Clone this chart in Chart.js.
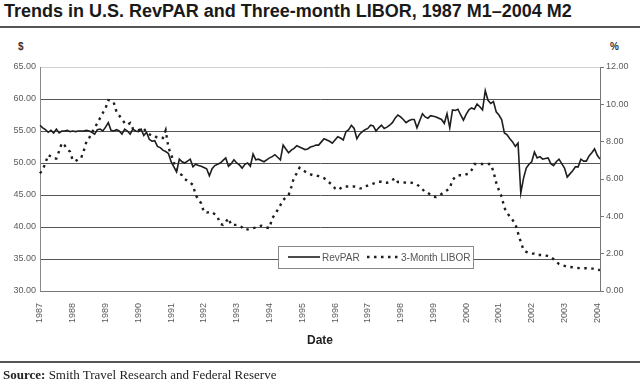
<!DOCTYPE html>
<html>
<head>
<meta charset="utf-8">
<script src="https://cdn.jsdelivr.net/npm/chart.js@4.4.1/dist/chart.umd.min.js"></script>
<style>
  html, body { margin: 0; padding: 0; background: #fff; }
  body { width: 640px; height: 384px; position: relative; overflow: hidden; font-family: "Liberation Sans", Arial, sans-serif; }
  .title { position: absolute; left: 4px; top: 1px; font-weight: bold; font-size: 18px; color: #1a1a1a; white-space: nowrap; }
  .rule { position: absolute; left: 0; width: 640px; height: 2px; background: #555; }
  .unit { position: absolute; top: 41px; font-size: 10px; font-weight: bold; color: #333; }
  .xtitle { position: absolute; top: 333px; left: 0; width: 640px; text-align: center; font-weight: bold; font-size: 12px; color: #222; }
  .source { position: absolute; left: 3px; top: 367px; font-family: "Liberation Serif", serif; font-size: 13px; color: #222; white-space: nowrap; }
  #wrap { position: absolute; left: 0; top: 40px; width: 640px; height: 300px; }
</style>
</head>
<body>
<div class="title">Trends in U.S. RevPAR and Three-month LIBOR, 1987 M1–2004 M2</div>
<div class="rule" style="top:26px"></div>
<div class="unit" style="left:18px">$</div>
<div class="unit" style="left:610px">%</div>
<div id="wrap"><canvas id="myChart" width="640" height="300"></canvas></div>
<div class="xtitle">Date</div>
<div class="rule" style="top:361px"></div>
<div class="source"><b>Source:</b> Smith Travel Research and Federal Reserve</div>
<script>
// monthly data, 1987 M1 .. 2004 M2
const years = [1987, 1988, 1989, 1990, 1991, 1992, 1993, 1994, 1995,
    1996, 1997, 1998, 1999, 2000, 2001, 2002, 2003, 2004];
const lastYearMonths = 2;

// RevPAR, $ (left axis)
const revpar = [
    55.9, 55.5, 55.2, 54.8, 55.1, 54.7, 55.3, 54.7, 55.0, 55.0, 55.1, 54.9,
    55.0, 54.9, 55.0, 55.0, 55.0, 55.1, 55.0, 54.8, 54.5, 55.2, 55.3, 55.0,
    55.6, 56.3, 55.1, 55.0, 55.2, 55.0, 54.5, 55.3, 55.0, 54.5, 55.3, 55.0,
    54.9, 55.3, 54.3, 54.8, 53.7, 53.4, 53.5, 52.6, 52.4, 52.0, 51.8, 51.5,
    50.2, 49.4, 48.6, 50.6, 50.2, 50.0, 50.3, 50.6, 49.4, 49.8, 49.6, 49.5,
    49.3, 49.1, 48.0, 49.1, 49.6, 49.8, 50.0, 50.4, 50.8, 49.5, 49.9, 50.5,
    50.0, 49.7, 49.2, 49.8, 50.0, 49.5, 51.4, 50.5, 50.6, 50.4, 50.2, 50.5,
    50.8, 51.0, 51.3, 50.9, 50.5, 52.8, 52.2, 51.6, 52.0, 52.3, 52.7, 52.5,
    52.3, 52.1, 52.2, 52.5, 52.6, 52.8, 52.8, 53.3, 53.8, 53.6, 53.4, 53.1,
    53.6, 54.1, 53.9, 53.6, 54.9, 55.2, 55.9, 55.4, 53.8, 54.5, 54.9, 55.2,
    55.4, 55.9, 55.8, 55.0, 55.5, 55.9, 55.4, 55.6, 55.9, 56.3, 57.0, 57.5,
    57.2, 56.8, 56.3, 56.6, 56.8, 56.8, 55.5, 56.6, 57.7, 57.2, 57.0, 57.4,
    57.3, 57.2, 57.0, 56.8, 56.2, 57.7, 55.5, 58.3, 58.2, 58.4, 57.5, 56.7,
    57.6, 58.3, 58.6, 58.4, 59.2, 58.8, 58.3, 61.3, 59.8, 59.3, 59.6, 58.0,
    57.5, 56.8, 54.7, 54.4, 53.8, 53.3, 52.6, 53.1, 45.3, 47.6, 49.2, 49.8,
    50.2, 51.7, 50.8, 51.0, 50.6, 50.7, 50.8, 49.9, 49.6, 50.2, 50.6, 49.9,
    49.2, 47.8, 48.3, 48.8, 49.4, 49.4, 50.6, 50.3, 50.3, 51.1, 51.6, 52.2,
    51.2, 50.6
];

// 3-month LIBOR, % (right axis)
const libor = [
    6.30, 6.50, 6.86, 7.29, 7.20, 7.10, 7.10, 7.50, 7.93, 7.80, 7.60, 7.46,
    7.00, 6.96, 7.05, 7.10, 7.50, 8.00, 8.20, 8.50, 8.73, 9.00, 9.27, 9.54,
    9.80, 10.23, 10.20, 10.10, 9.60, 9.40, 9.20, 9.00, 8.90, 9.00, 8.70, 8.70,
    8.60, 8.70, 8.70, 8.50, 8.40, 8.30, 8.30, 8.20, 8.20, 8.20, 8.60, 7.70,
    7.30, 6.90, 6.48, 6.30, 6.20, 6.00, 5.90, 5.80, 5.68, 5.14, 4.90, 4.70,
    4.23, 4.20, 4.23, 4.23, 4.10, 3.97, 3.60, 3.54, 3.70, 3.90, 3.54, 3.54,
    3.54, 3.50, 3.40, 3.27, 3.30, 3.35, 3.37, 3.40, 3.45, 3.50, 3.45, 3.40,
    3.37, 3.90, 4.10, 4.34, 4.60, 4.88, 5.00, 5.14, 5.57, 6.10, 6.30, 6.60,
    6.50, 6.40, 6.30, 6.25, 6.20, 6.20, 6.15, 6.10, 6.05, 5.90, 5.80, 5.68,
    5.50, 5.41, 5.50, 5.60, 5.60, 5.60, 5.60, 5.60, 5.55, 5.50, 5.50, 5.60,
    5.65, 5.70, 5.75, 5.80, 5.85, 5.85, 5.80, 5.80, 5.85, 5.95, 6.05, 5.84,
    5.84, 5.82, 5.80, 5.80, 5.80, 5.75, 5.70, 5.60, 5.45, 5.30, 5.25, 5.15,
    5.05, 5.04, 5.10, 5.20, 5.30, 5.40, 5.50, 5.95, 6.10, 6.20, 6.20, 6.20,
    6.25, 6.30, 6.48, 6.80, 6.80, 6.80, 6.80, 6.80, 6.80, 6.80, 6.40, 5.80,
    5.40, 5.04, 4.45, 4.20, 3.97, 3.80, 3.60, 3.10, 2.63, 2.20, 2.10, 2.05,
    2.00, 2.00, 1.93, 1.93, 1.92, 1.90, 1.88, 1.82, 1.70, 1.56, 1.45, 1.39,
    1.35, 1.30, 1.29, 1.27, 1.25, 1.23, 1.22, 1.22, 1.22, 1.21, 1.20, 1.20,
    1.15, 1.12
];

const labels = [];
years.forEach((y, i) => {
    const n = i === years.length - 1 ? lastYearMonths : 12;
    for (let m = 1; m <= n; m++) labels.push(y + " M" + m);
});

const tickFont = { family: "'Liberation Sans', Arial, sans-serif", size: 9 };
const tickColor = "#5a5a5a";

// legend box drawn inside the plot, over the 35.00 gridline
const boxLegend = {
    id: "boxLegend",
    afterDraw(chart) {
        const c = chart.ctx;
        const a = chart.chartArea;
        const x = 278, y = a.top + 179, w = 195, h = 22;
        const mid = y + h / 2;
        c.save();
        c.fillStyle = "#fff";
        c.fillRect(x, y, w, h);
        c.strokeStyle = "#888";
        c.lineWidth = 1;
        c.strokeRect(x + 0.5, y + 0.5, w, h);
        c.font = "10px 'Liberation Sans', Arial, sans-serif";
        c.fillStyle = "#555";
        c.textBaseline = "middle";
        chart.data.datasets.forEach((ds, i) => {
            const sx = i === 0 ? x + 10 : x + 89;
            c.strokeStyle = ds.borderColor;
            c.lineWidth = ds.borderWidth;
            c.setLineDash(ds.borderDash || []);
            c.beginPath();
            c.moveTo(sx, mid);
            c.lineTo(sx + 32, mid);
            c.stroke();
            c.setLineDash([]);
            c.fillText(ds.label, sx + 34, mid + 1);
        });
        c.restore();
    },
};

const ctx = document.getElementById("myChart").getContext("2d");
const myChart = new Chart(ctx, {
    type: "line",
    data: {
        labels: labels,
        datasets: [
            {
                label: "RevPAR",
                data: revpar,
                yAxisID: "y",
                borderColor: "#1e1e1e",
                borderWidth: 1.6,
                pointRadius: 0,
                tension: 0,
            }, {
                label: "3-Month LIBOR",
                data: libor,
                yAxisID: "y1",
                borderColor: "#1e1e1e",
                borderWidth: 2.4,
                borderDash: [2.5, 4.5],
                pointRadius: 0,
                tension: 0,
            },
        ],
    },
    options: {
        responsive: false,
        animation: false,
        layout: { padding: { top: 27, bottom: 9, left: 0, right: 0 } },
        plugins: {
            legend: { display: false },
            tooltip: { enabled: false },
        },
        scales: {
            x: {
                grid: { display: false },
                border: { color: "#777", width: 1 },
                ticks: {
                    autoSkip: false,
                    maxRotation: 90,
                    minRotation: 90,
                    padding: 4,
                    font: tickFont,
                    color: tickColor,
                    callback: function (v, i) {
                        const l = labels[i];
                        return l.endsWith(" M1") ? l.slice(0, 4) : "";
                    },
                },
                afterFit(scale) { scale.height = 40; },
            },
            y: {
                position: "left",
                min: 30,
                max: 65,
                ticks: {
                    stepSize: 5,
                    padding: 4,
                    font: tickFont,
                    color: tickColor,
                    callback: (v) => v.toFixed(2),
                },
                grid: {
                    drawTicks: false,
                    color: (c) => (c.tick && c.tick.value === 65 ? "#d0d0d0" : "#555"),
                },
                border: { color: "#888" },
                afterFit(scale) { scale.width = 40; },
            },
            y1: {
                position: "right",
                min: 0,
                max: 12,
                ticks: {
                    stepSize: 2,
                    padding: 2,
                    font: tickFont,
                    color: tickColor,
                    callback: (v) => v.toFixed(2),
                },
                grid: { drawOnChartArea: false, tickLength: 4, color: "#777" },
                border: { color: "#777" },
                afterFit(scale) { scale.width = 40; },
            },
        },
    },
    plugins: [boxLegend],
});
</script>
</body>
</html>
